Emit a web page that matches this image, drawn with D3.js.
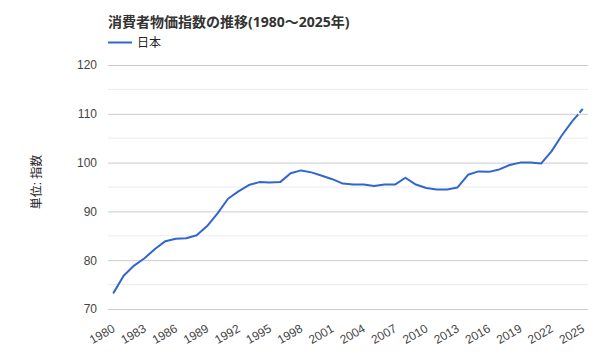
<!DOCTYPE html>
<html><head><meta charset="utf-8">
<script src="https://cdn.jsdelivr.net/npm/d3@7"></script>
<style>body{margin:0;background:#fff}svg{display:block;font-family:Arial,"Liberation Sans","Noto Sans CJK JP",sans-serif}</style>
</head><body><svg id="c" width="600" height="360"></svg>
<script>
const years = d3.range(1980, 2026);
const cpiJapan = [73.2,76.8,78.9,80.4,82.3,83.9,84.4,84.5,85.1,87.0,89.6,92.6,94.1,95.4,96.0,95.9,96.0,97.8,98.4,98.0,97.3,96.6,95.7,95.5,95.5,95.2,95.5,95.5,96.9,95.5,94.8,94.5,94.5,94.9,97.5,98.2,98.1,98.6,99.5,100.0,100.0,99.8,102.3,105.6,108.5,111.0];
const yTicks = [70,80,90,100,110,120];
const yMinor = [75,85,95,105,115];
const xTickYears = d3.range(1980, 2026, 3);
const title = "消費者物価指数の推移(1980～2025年)";
const seriesName = "日本";
const yTitle = "単位: 指数";

const svg = d3.select("#c");
const L=108,R=588,T=65,B=309;
const x = d3.scalePoint().domain(years).range([L,R]).padding(0.5);
const y = d3.scaleLinear().domain([70,120]).range([B,T]);

svg.append("g").selectAll("line").data(yMinor).join("line")
  .attr("x1",L).attr("x2",R).attr("y1",d=>y(d)).attr("y2",d=>y(d))
  .attr("stroke","#ebebeb").attr("stroke-width",1);
const yAxis = svg.append("g").attr("transform",`translate(${L},0)`)
  .call(d3.axisLeft(y).tickValues(yTicks).tickSize(-(R-L)).tickPadding(11));
yAxis.select(".domain").remove();
yAxis.selectAll(".tick line").attr("stroke","#cccccc");
yAxis.selectAll(".tick text").attr("fill","#444").attr("font-size",12);

const xAxis = svg.append("g").attr("transform",`translate(0,${B})`)
  .call(d3.axisBottom(x).tickValues(xTickYears).tickSize(0).tickPadding(0));
xAxis.select(".domain").remove();
xAxis.selectAll(".tick text").attr("fill","#444").attr("font-size",12)
  .attr("text-anchor","end").attr("dy",0)
  .attr("transform","translate(2,22) rotate(-30)");

const line = d3.line().x((d,i)=>x(years[i])).y(d=>y(d));
const n = cpiJapan.length;
svg.append("path").datum(cpiJapan.slice(0,n-1))
  .attr("d",(d)=>line(d)).attr("fill","none").attr("stroke","#3366cc").attr("stroke-width",2).attr("stroke-linejoin","round");
const lastLine = d3.line().x(d=>x(d[0])).y(d=>y(d[1]));
svg.append("path").datum([[years[n-2],cpiJapan[n-2]],[years[n-1],cpiJapan[n-1]]])
  .attr("d",lastLine).attr("fill","none").attr("stroke","#3366cc").attr("stroke-width",2).attr("stroke-dasharray","9,2");

svg.append("text").attr("x",L).attr("y",27).attr("font-size",14).attr("font-weight","bold").attr("fill","#333")
  .style("font-family",'"Open Sans","Noto Sans CJK JP",sans-serif').text(title);
svg.append("line").attr("x1",L).attr("x2",132).attr("y1",42.5).attr("y2",42.5).attr("stroke","#3366cc").attr("stroke-width",2);
svg.append("text").attr("x",137).attr("y",47).attr("font-size",12).attr("fill","#222").text(seriesName);
svg.append("text").attr("transform","translate(41,182) rotate(-90)").attr("text-anchor","middle").attr("font-size",12).attr("fill","#222").text(yTitle);
</script></body></html>
